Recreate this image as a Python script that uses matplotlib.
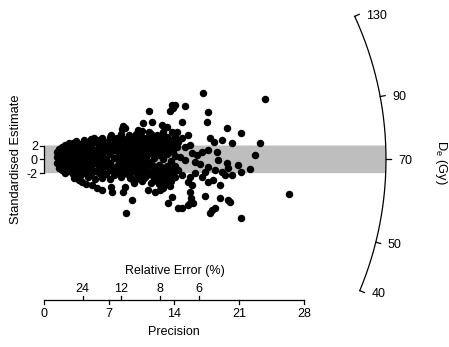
import math
import numpy as np
import matplotlib
matplotlib.use("Agg")
import matplotlib.pyplot as plt

plt.rcParams["font.family"] = ["Liberation Sans", "DejaVu Sans"]
plt.rcParams["mathtext.fontset"] = "custom"
plt.rcParams["mathtext.rm"] = "Liberation Sans"
plt.rcParams["mathtext.it"] = "Liberation Sans:italic"

# ---------------- data (precision, standardised estimate) ----------------
# individually readable points
precision = [23.80, 21.20, 23.26, 22.69, 22.19, 21.22, 26.35, 21.22, 17.09, 15.19,
             14.11, 17.70, 17.59, 14.83, 19.68, 15.54, 14.89, 14.46, 17.88, 19.14,
             18.34, 20.22, 14.29, 15.18, 15.72, 16.98, 17.70, 16.45, 15.91, 18.60,
             18.77, 14.65, 15.19, 16.26, 16.80, 19.68, 19.85, 20.93, 17.70, 17.34,
             18.42, 19.14, 20.22, 19.49, 14.46, 14.83, 15.72, 16.26, 16.98, 17.70,
             18.23, 15.54, 15.91, 18.96, 15.72, 15.83, 15.72, 17.34, 18.96, 19.85,
             20.03, 14.83, 15.54, 16.08, 18.06, 18.42, 17.88,
             13.75, 13.93, 13.57, 11.34, 8.54, 8.72, 8.37, 10.69, 11.60, 10.52,
             10.16, 11.34, 12.14, 12.68, 13.21, 13.75, 14.29, 7.46, 7.83, 8.37,
             8.91, 9.62, 9.98, 7.29, 8.72, 8.54, 9.80, 9.26, 11.23, 11.95,
             12.49, 12.85, 13.57, 13.75, 9.44, 8.83, 13.39, 14.46, 3.23, 3.77,
             4.12, 4.49, 5.20, 5.74, 6.28, 7.18, 5.38, 5.92, 6.28, 6.82, 7.18]
std_estimate = [8.74, 3.85, 2.41, 0.62, -1.36, -1.80, -5.03, -8.46, 9.65, 7.77,
                7.87, 6.81, 5.46, 5.45, 4.58, 3.52, 3.04, 2.55, 3.13, 2.80,
                2.55, 2.32, 1.83, 1.83, 2.07, 1.10, 1.35, 0.62, 0.87, 1.10,
                -0.10, 0.38, -0.10, -0.35, -0.72, -0.58, -1.30, -0.83, -1.07, -1.80,
                -1.55, -1.80, -2.28, -2.28, -1.55, -2.28, -2.52, -2.03, -2.52, -3.25,
                -3.00, -3.25, -3.72, -3.72, -4.69, -5.65, -6.38, -5.32, -5.65, -5.90,
                -6.23, -7.01, -6.62, -6.38, -7.35, -7.10, -7.82,
                7.87, 7.39, 7.00, 7.00, 4.88, 4.49, 4.39, 5.30, 5.45, 4.10,
                4.25, 4.00, 3.52, 4.97, 4.72, 4.00, 3.91, 3.04, 3.04, 3.13,
                2.80, 3.27, 2.55, -4.69, -3.97, -4.69, -3.00, -2.75, -4.45, -4.78,
                -4.45, -4.12, -3.87, -5.42, -5.90, -7.82, -6.38, -7.10, -2.75, -3.00,
                -3.25, -3.62, -3.72, -4.20, -4.45, -3.97, 3.04, 2.80, 3.13, 2.55, 3.52]

# dense cluster, column by column (precision -> estimates)
cluster_precision = [1.4, 1.65, 1.95, 2.3, 2.7, 3.1, 3.5, 3.9, 4.3, 4.7, 5.1, 5.5,
                     5.9, 6.3, 6.7, 7.1, 7.5, 7.9, 8.3, 8.8, 9.2, 9.7, 10.1, 10.6,
                     11.0, 11.5, 11.9, 12.4, 12.8, 13.3, 13.7, 14.1,
                     8.1, 8.55, 9.0, 9.45, 9.9, 10.35, 10.8, 11.25, 11.7, 12.15,
                     12.6, 13.05, 13.5, 13.9]
cluster_estimates = [
    [-0.6, 0.3, 1.1],
    [-1.2, -0.3, 0.6, 1.5],
    [-1.6, -0.8, 0.1, 0.9, 1.8],
    [-2.0, -1.2, -0.3, 0.5, 1.3, 2.1],
    [-1.7, -0.8, 0.1, 0.9, 1.8, 2.4],
    [-2.2, -1.3, -0.4, 0.5, 1.4, 2.3],
    [-1.8, -0.9, 0.0, 0.9, 1.8, 2.6],
    [-2.4, -1.4, -0.5, 0.4, 1.3, 2.2],
    [-2.0, -1.0, 0.1, 1.0, 1.9, 2.8],
    [-2.6, -1.5, -0.6, 0.5, 1.5, 2.4],
    [-2.2, -1.1, -0.1, 0.9, 2.0, 3.0],
    [-2.8, -1.7, -0.6, 0.4, 1.4, 2.5],
    [-2.0, -1.0, 0.1, 1.1, 2.1],
    [-2.7, -1.5, -0.4, 0.6, 1.7, 2.8],
    [-2.1, -1.0, 0.0, 1.2, 2.2],
    [-2.9, -1.6, -0.5, 0.7, 1.8, 3.3],
    [-2.3, -1.2, 0.2, 1.3, 2.4],
    [-2.0, -0.9, 0.3, 1.4, 2.5],
    [-2.6, -1.4, -0.2, 0.9, 2.0, 3.6],
    [-1.9, -0.7, 0.5, 1.6, 2.8],
    [-2.3, -1.1, 0.1, 1.2, 2.3, 3.5],
    [-3.4, -1.7, -0.5, 0.7, 1.9, 3.0],
    [-2.5, -1.2, 0.0, 1.4, 2.6],
    [-3.1, -1.8, -0.6, 0.8, 2.0, 3.3],
    [-2.4, -1.1, 0.3, 1.6, 2.9],
    [-3.4, -2.0, -0.4, 1.0, 2.3, 3.6],
    [-2.8, -1.4, 0.2, 1.8, 3.0],
    [-3.6, -2.2, -0.8, 0.6, 2.2],
    [-3.0, -1.5, 0.0, 1.4, 2.7, 4.0],
    [-2.4, -0.9, 0.8, 2.0, 3.2],
    [-3.2, -1.7, -0.2, 1.3, 2.6],
    [-2.6, -1.0, 0.5, 2.0, 3.3],
    [-1.4, -0.3, 0.9, 2.0],
    [-2.2, -1.1, 0.1, 1.1, 2.3],
    [-1.5, -0.3, 0.8, 1.9, 3.1],
    [-2.8, -0.8, 0.5, 1.6, 2.6],
    [-2.0, -1.0, 0.3, 1.3, 3.6],
    [-1.6, -0.2, 1.0, 2.2, 3.0],
    [-2.7, -1.3, 0.1, 1.2, 2.5],
    [-1.7, -0.6, 0.7, 2.0, 3.2],
    [-2.4, -0.9, 1.4, 2.6],
    [-3.2, -1.8, 1.1, 2.6],
    [-2.6, -1.1, 1.8, 3.4],
    [-3.5, -1.9, 1.1, 2.4],
    [-2.8, -1.3, 1.7, 2.9],
    [-2.2, 1.0, 2.4],
]

z_central = 70                 # central value De (Gy)
z_ticks = [40, 50, 70, 90, 130]
prec_ticks = [0, 7, 14, 21, 28]
rel_err_ticks = [24, 12, 8, 6]
y_ticks = [-2, 0, 2]
band = 2

# ---------------- figure ----------------
W, H = 449, 347
fig = plt.figure(figsize=(W / 100, H / 100), dpi=100)
ax = fig.add_axes([0, 0, 1, 1])
ax.set_axis_off()
XLIM = (-4.738, 43.615)
YLIM = (-27.20, 23.087)
ax.set_xlim(*XLIM)
ax.set_ylim(*YLIM)
sx = W / (XLIM[1] - XLIM[0])   # pixels per precision unit
sy = H / (YLIM[1] - YLIM[0])   # pixels per standardised unit


def row(py):
    return YLIM[1] - py / sy


FS = 9
LW = 0.9
R = 342.0
lz0 = math.log(z_central)


def ray(z, r):
    d = math.log(z) - lz0
    th = math.atan2(sy * d, sx)
    return r * math.cos(th) / sx, r * math.sin(th) / sy


# grey 2-sigma band, closed by the arc
thb = math.asin(band * sy / R)
ang = np.linspace(thb, -thb, 60)
bx = [0] + list(R * np.cos(ang) / sx) + [0]
by = [band] + list(R * np.sin(ang) / sy) + [-band]
ax.fill(bx, by, color="#bebebe", lw=0, zorder=1)

# points
allp = list(precision)
alle = list(std_estimate)
for p, ests in zip(cluster_precision, cluster_estimates):
    for e in ests:
        allp.append(p)
        alle.append(e)
ax.scatter(allp, alle, s=29, c="black", linewidths=0, zorder=3)

# left standardised axis
ax.plot([0, 0], [-band, band], color="black", lw=LW, solid_capstyle="butt")
for t in y_ticks:
    ax.plot([-4 / sx, 0], [t, t], color="black", lw=LW)
    ax.text(-6 / sx, t, str(t), ha="right", va="center_baseline", fontsize=FS)
ax.text(-28 / sx, 0, "Standardised Estimate", rotation=90, ha="center",
        va="center", fontsize=FS + 0.3)

# precision axis with relative error ticks
yl = row(300)
ax.plot([prec_ticks[0], prec_ticks[-1]], [yl, yl], color="black", lw=LW)
for t in prec_ticks:
    ax.plot([t, t], [yl, yl - 4 / sy], color="black", lw=LW)
    ax.text(t, row(317), str(t), ha="center", va="baseline", fontsize=FS)
for r in rel_err_ticks:
    x = 100.0 / r
    ax.plot([x, x], [yl, yl + 4 / sy], color="black", lw=LW)
    ax.text(x, row(292), str(r), ha="center", va="baseline", fontsize=FS)
ax.text(14.1, row(274), "Relative Error (%)", ha="center", va="baseline", fontsize=FS)
ax.text(14, row(335), "Precision", ha="center", va="baseline", fontsize=FS)

# z-axis arc
zs = np.geomspace(min(z_ticks), max(z_ticks), 300)
arc = np.array([ray(z, R) for z in zs])
ax.plot(arc[:, 0], arc[:, 1], color="black", lw=LW)
for z in z_ticks:
    x0, y0 = ray(z, R)
    x1, y1 = ray(z, R + 5)
    ax.plot([x0, x1], [y0, y1], color="black", lw=LW)
    ax.text(x1 + 7 / sx, y1, str(z), ha="left", va="center_baseline", fontsize=FS)
ax.text(XLIM[0] + 441 / sx, row(162), r"D$_\mathregular{e}$ (Gy)", rotation=270,
        ha="center", va="center", fontsize=FS + 0.3)

fig.savefig("out.png", dpi=100)
